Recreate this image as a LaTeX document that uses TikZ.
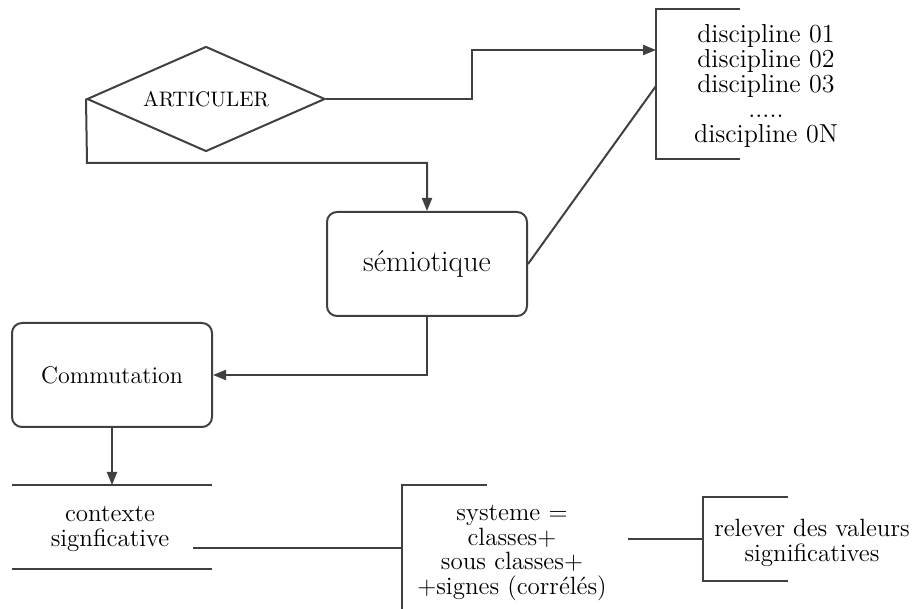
\documentclass[tikz,border=0pt]{standalone}
\usetikzlibrary{shapes.geometric,arrows.meta}
\begin{document}
\begin{tikzpicture}[x=0.5pt,y=-0.5pt,
  line/.style={draw=black!75, line width=1pt},
  arr/.style={line, -{Triangle[length=6.5pt,width=5pt]}},
  txt/.style={font=\fontsize{12.5}{12.3}\selectfont, align=center, inner sep=0pt},
  rbox/.style={line, rounded corners=5pt, minimum width=100pt, minimum height=52pt, align=center}]
\useasboundingbox (0,0) rectangle (917,609);

% decision diamond
\node[line, diamond, aspect=2.26, minimum width=119pt, minimum height=52.5pt,
      inner sep=0pt, font=\fontsize{10.5}{12}\selectfont] (art) at (206,99) {ARTICULER};

% rounded process boxes
\node[rbox, font=\fontsize{15}{16}\selectfont] (sem) at (427,264) {sémiotique};
\node[rbox, font=\fontsize{12}{14}\selectfont] (comm) at (112,375) {Commutation};

% list of disciplines with its bracket
\node[txt, font=\fontsize{13}{12.5}\selectfont] (disc) at (766,86)
  {discipline 01\\discipline 02\\discipline 03\\.....\\discipline 0N};
\coordinate (discTop) at (656,9);
\coordinate (discBot) at (656,159);
\coordinate (discIn) at (656,50);
\coordinate (discDiag) at (656,86);
\draw[line] (740,9) -- (discTop) -- (discBot) -- (740,159);

% context between two rules
\node[txt] (ctx) at (110,529) {contexte\\signficative};
\coordinate (ctxTop) at (112,485);
\coordinate (ctxOut) at (193,548);
\draw[line] (12,485) -- (212,485);
\draw[line] (12,569) -- (212,569);

% system bracket
\node[txt] (sys) at (512,553) {systeme =\\classes+\\sous classes+\\+signes (corrélés)};
\coordinate (sysIn) at (402,548);
\coordinate (sysOut) at (628,539);
\draw[line] (487,485) -- (402,485) -- (402,612);

% values bracket
\node[txt] (rel) at (812,543) {relever des valeurs\\significatives};
\coordinate (relIn) at (703,539);
\draw[line] (788,497) -- (703,497) -- (703,581) -- (788,581);

% connectors
\draw[arr] (art.east) -- (472,99) |- (discIn);
\draw[arr] (art.west) -- (87,163) -| (sem.north);
\draw[line] (sem.east) -- (discDiag);
\draw[arr] (sem.south) |- (comm.east);
\draw[arr] (comm.south) -- (ctxTop);
\draw[line] (ctxOut) -- (sysIn);
\draw[line] (sysOut) -- (relIn);
\end{tikzpicture}
\end{document}
